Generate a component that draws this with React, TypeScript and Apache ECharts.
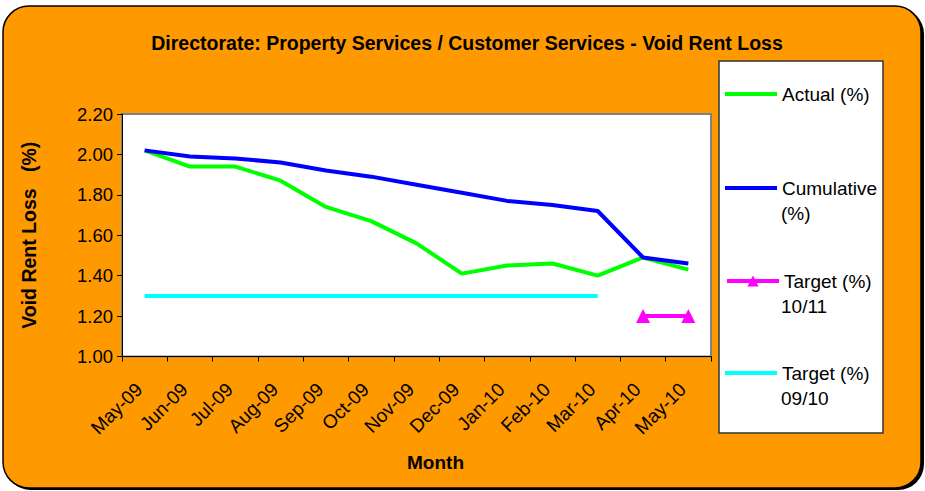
import React, { useEffect, useRef } from "react";
import * as echarts from "echarts";

const months = ["May-09","Jun-09","Jul-09","Aug-09","Sep-09","Oct-09","Nov-09","Dec-09","Jan-10","Feb-10","Mar-10","Apr-10","May-10"];
const actual = [2.02,1.94,1.94,1.87,1.74,1.67,1.56,1.41,1.45,1.46,1.40,1.49,1.43];
const cumulative = [2.02,1.99,1.98,1.96,1.92,1.89,1.85,1.81,1.77,1.75,1.72,1.49,1.46];
const target1011 = [null,null,null,null,null,null,null,null,null,null,null,1.20,1.20];
const target0910 = [1.30,1.30,1.30,1.30,1.30,1.30,1.30,1.30,1.30,1.30,1.30,null,null];

const FONT = "'Liberation Sans', Arial, sans-serif";

export default function App() {
  const ref = useRef<HTMLDivElement>(null);
  useEffect(() => {
    if (!ref.current) return;
    const chart = echarts.init(ref.current, null, { renderer: "svg" });
    const legendItem = (name: string, label: string, top: number, triangle: boolean) => ({
      orient: "vertical",
      left: 725,
      top,
      padding: 0,
      itemWidth: 52,
      itemHeight: triangle ? 14 : 4,
      itemGap: 5,
      data: triangle ? [name] : [{ name, icon: "rect" }],
      formatter: () => label,
      lineStyle: { width: 4 },
      textStyle: { fontFamily: FONT, fontSize: 19, color: "#000", lineHeight: 22 },
      selectedMode: false,
    });
    chart.setOption({
      animation: false,
      backgroundColor: "#fff",
      textStyle: { fontFamily: FONT },
      title: {
        text: "Directorate: Property Services / Customer Services - Void Rent Loss",
        left: 467,
        textAlign: "center",
        top: 33,
        padding: 0,
        textStyle: { fontFamily: FONT, fontSize: 19.5, fontWeight: "bold", color: "#000" },
      },
      graphic: [
        { type: "rect", z: -100, shape: { x: 5, y: 8, width: 919, height: 482, r: 26 }, style: { fill: "#000" } },
        { type: "rect", z: -99, shape: { x: 3, y: 6, width: 918, height: 482, r: 26 }, style: { fill: "#FF9900", stroke: "#000", lineWidth: 1.5 } },
        { type: "rect", z: -98, shape: { x: 719, y: 61, width: 164, height: 372 }, style: { fill: "#fff", stroke: "#333", lineWidth: 1.5 } },
        { type: "text", z: 100, x: 781, y: 213, style: { text: "(%)", font: `19px ${FONT}`, fill: "#000", textVerticalAlign: "middle" } },
        { type: "text", z: 100, x: 781, y: 306, style: { text: "10/11", font: `19px ${FONT}`, fill: "#000", textVerticalAlign: "middle" } },
        { type: "text", z: 100, x: 781, y: 398, style: { text: "09/10", font: `19px ${FONT}`, fill: "#000", textVerticalAlign: "middle" } },
      ],
      legend: [
        legendItem("Actual (%)", "Actual (%)", 83, false),
        legendItem("Cumulative (%)", "Cumulative", 177, false),
        legendItem("Target (%) 10/11", "Target (%)", 270, true),
        legendItem("Target (%) 09/10", "Target (%)", 362, false),
      ],
      grid: {
        left: 122,
        right: 214,
        top: 114,
        bottom: 134.5,
        show: true,
        backgroundColor: "#fff",
        borderColor: "#808080",
        borderWidth: 2,
      },
      xAxis: {
        type: "category",
        data: months,
        boundaryGap: true,
        name: "Month",
        nameLocation: "middle",
        nameGap: 96,
        nameMoveOverlap: false,
        nameTextStyle: { fontFamily: FONT, fontSize: 19, fontWeight: "bold", color: "#000", padding: [0, 0, 0, 38] },
        axisLine: { lineStyle: { color: "#000", width: 1 } },
        axisTick: { show: true, alignWithLabel: false, length: 5, lineStyle: { color: "#000" } },
        axisLabel: { rotate: 45, interval: 0, margin: 24, padding: [0, 8, 0, 0], fontFamily: FONT, fontSize: 19, color: "#000" },
        splitLine: { show: false },
      },
      yAxis: {
        type: "value",
        min: 1,
        max: 2.2,
        interval: 0.2,
        name: "Void Rent Loss   (%)",
        nameLocation: "middle",
        nameGap: 83,
        nameMoveOverlap: false,
        nameTextStyle: { fontFamily: FONT, fontSize: 19.5, fontWeight: "bold", color: "#000" },
        axisLine: { show: true, lineStyle: { color: "#000", width: 1 } },
        axisTick: { show: true, length: 5, lineStyle: { color: "#000" } },
        axisLabel: { formatter: (v: number) => v.toFixed(2), margin: 9, fontFamily: FONT, fontSize: 18.5, color: "#000" },
        splitLine: { show: false },
      },
      series: [
        { name: "Actual (%)", type: "line", data: actual, symbol: "none", lineStyle: { color: "#00FF00", width: 4 }, itemStyle: { color: "#00FF00" } },
        { name: "Cumulative (%)", type: "line", data: cumulative, symbol: "none", lineStyle: { color: "#0000FF", width: 4 }, itemStyle: { color: "#0000FF" } },
        { name: "Target (%) 10/11", type: "line", data: target1011, symbol: "triangle", symbolSize: 14, showSymbol: true, lineStyle: { color: "#FF00FF", width: 4 }, itemStyle: { color: "#FF00FF" } },
        { name: "Target (%) 09/10", type: "line", data: target0910, symbol: "none", lineStyle: { color: "#00FFFF", width: 4 }, itemStyle: { color: "#00FFFF" } },
      ],
    });
    return () => chart.dispose();
  }, []);
  return <div ref={ref} style={{ position: "absolute", left: 0, top: 0, width: 925, height: 491 }} />;
}
